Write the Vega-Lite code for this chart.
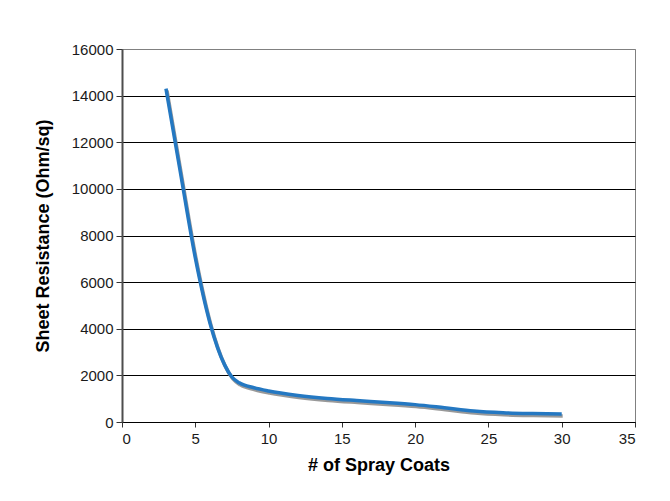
{
  "$schema": "https://vega.github.io/schema/vega-lite/v6.json",
  "width": 513,
  "height": 373,
  "autosize": {"type": "none"},
  "padding": {"left": 122, "top": 49, "right": 35, "bottom": 79},
  "background": "white",
  "config": {
    "font": "Liberation Sans",
    "view": {"stroke": "#808080", "strokeWidth": 1}
  },
  "data": {
    "values": [
      {"coats": 3, "resistance": 14300},
      {"coats": 4, "resistance": 10650},
      {"coats": 5, "resistance": 7050},
      {"coats": 6, "resistance": 4250},
      {"coats": 7, "resistance": 2450},
      {"coats": 7.5, "resistance": 1930},
      {"coats": 8, "resistance": 1680},
      {"coats": 9, "resistance": 1470},
      {"coats": 10, "resistance": 1330},
      {"coats": 12, "resistance": 1140},
      {"coats": 14, "resistance": 1010},
      {"coats": 16, "resistance": 920},
      {"coats": 18, "resistance": 840},
      {"coats": 20, "resistance": 745},
      {"coats": 22, "resistance": 610},
      {"coats": 24, "resistance": 470},
      {"coats": 26, "resistance": 395},
      {"coats": 28, "resistance": 360},
      {"coats": 30, "resistance": 340}
    ]
  },
  "encoding": {
    "x": {
      "field": "coats",
      "type": "quantitative",
      "scale": {"domain": [0, 35], "nice": false, "zero": false},
      "axis": {
        "title": "# of Spray Coats",
        "values": [0, 5, 10, 15, 20, 25, 30, 35],
        "grid": false,
        "domainColor": "black",
        "domainWidth": 1,
        "tickColor": "#333333",
        "tickSize": 5,
        "labelFontSize": 15,
        "labelColor": "#1a1a1a",
        "labelPadding": 4,
        "titleFontSize": 18,
        "titleFontWeight": "bold",
        "titleColor": "black",
        "titlePadding": 10
      }
    },
    "y": {
      "field": "resistance",
      "type": "quantitative",
      "scale": {"domain": [0, 16000], "nice": false},
      "axis": {
        "title": "Sheet Resistance (Ohm/sq)",
        "values": [0, 2000, 4000, 6000, 8000, 10000, 12000, 14000, 16000],
        "format": "d",
        "grid": true,
        "gridColor": {"condition": {"test": "datum.value == 16000", "value": "#808080"}, "value": "black"},
        "gridWidth": 1,
        "gridOpacity": 1,
        "domainColor": "#4d4d4d",
        "domainWidth": 2,
        "tickColor": "#333333",
        "tickSize": 6,
        "labelFontSize": 15,
        "labelColor": "#1a1a1a",
        "labelPadding": 3,
        "titleFontSize": 18,
        "titleFontWeight": "bold",
        "titleColor": "black",
        "titlePadding": 19
      }
    }
  },
  "layer": [
    {
      "mark": {"type": "line", "interpolate": "monotone", "color": "#7f7f7f", "strokeWidth": 3.5, "opacity": 0.8, "xOffset": 1, "yOffset": 2}
    },
    {
      "mark": {"type": "line", "interpolate": "monotone", "color": "#2478c2", "strokeWidth": 3.5}
    }
  ]
}
